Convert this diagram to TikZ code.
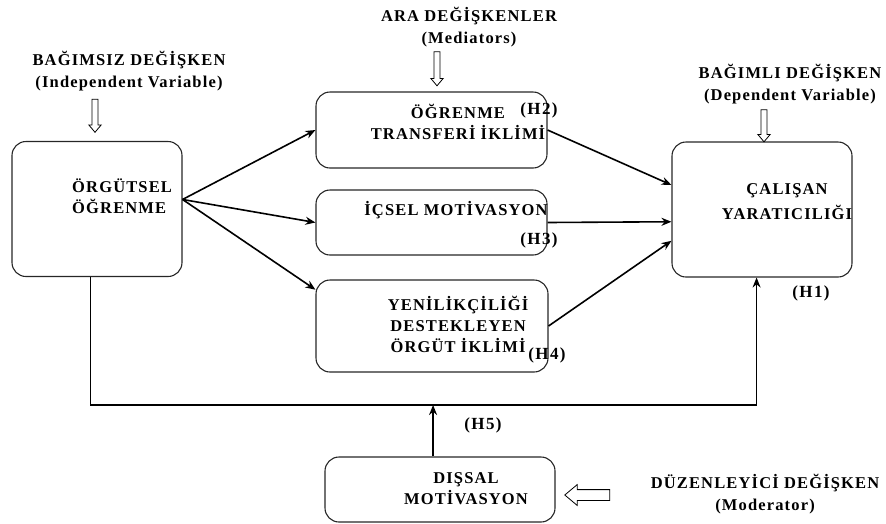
\documentclass[tikz,border=0pt]{standalone}
\usepackage{fontspec}
\setmainfont{Liberation Serif}
\usetikzlibrary{arrows.meta,calc,shapes.arrows}

\begin{document}
\begin{tikzpicture}[x=1pt,y=-1pt,
  box/.style={draw=black!85,line width=1.1pt,rounded corners=14pt,inner sep=0pt},
  txt/.style={font=\fontsize{16.5}{21}\selectfont\bfseries\addfontfeature{LetterSpace=7},align=center,inner sep=0pt},
  head/.style={font=\fontsize{16.5}{22}\selectfont\bfseries\addfontfeature{LetterSpace=7},align=center,inner sep=0pt},
  hyp/.style={font=\fontsize{17}{18}\selectfont\bfseries\addfontfeature{LetterSpace=8},inner sep=0pt},
  link/.style={line width=1.6pt,-{Stealth[length=10pt,width=8pt]}},
  frame/.style={line width=1.3pt},
  hollow/.style={single arrow,draw,line width=0.8pt,inner sep=2.6pt,
    single arrow head extend=3.2pt,single arrow tip angle=80}]
\useasboundingbox (0,0) rectangle (886,523);

% boxes
\node[box,minimum width=170pt,minimum height=135pt] (org) at (97,209) {};
\node[box,minimum width=231pt,minimum height=76pt] (m1) at (431.5,130) {};
\node[box,minimum width=231pt,minimum height=65pt] (m2) at (431.5,222.5) {};
\node[box,minimum width=232pt,minimum height=92pt] (m3) at (432,326) {};
\node[box,minimum width=180pt,minimum height=135pt] (dv) at (762,209.5) {};
\node[box,minimum width=230pt,minimum height=65pt] (ext) at (440,489.5) {};

% texts inside the boxes
\node[txt,align=left,anchor=west] (orgT) at (72,196) {ÖRGÜTSEL\\ÖĞRENME};
\node[txt] (m1T) at (458,122) {ÖĞRENME\\TRANSFERİ İKLİMİ};
\node[txt] (m2T) at (456,210) {İÇSEL MOTİVASYON};
\node[txt] (m3T) at (458,324) {YENİLİKÇİLİĞİ\\DESTEKLEYEN\\ÖRGÜT İKLİMİ};
\node[txt] (dvT) at (787,202) {ÇALIŞAN\\[4pt]YARATICILIĞI};
\node[txt] (extT) at (466,489) {DIŞSAL\\MOTİVASYON};

% hypothesis marks
\node[hyp] (h2) at (539,110) {(H2)};
\node[hyp] (h3) at (539,240) {(H3)};
\node[hyp] (h4) at (547,355) {(H4)};
\node[hyp] (h1) at (811,293) {(H1)};
\node[hyp] (h5) at (483,425) {(H5)};

% variable headings
\node[head] (ivL) at (129,71) {BAĞIMSIZ DEĞİŞKEN\\(Independent Variable)};
\node[head] (medL) at (469,27) {ARA DEĞİŞKENLER\\(Mediators)};
\node[head] (dvL) at (790,84) {BAĞIMLI DEĞİŞKEN\\(Dependent Variable)};
\node[head] (modL) at (765,494) {DÜZENLEYİCİ DEĞİŞKEN\\(Moderator)};

% hollow pointer arrows
\node[hollow,minimum height=33pt,rotate=-90] (ivA) at (95,114) {};
\node[hollow,minimum height=34pt,rotate=-90] (medA) at (437,67) {};
\node[hollow,minimum height=32pt,rotate=-90] (dvA) at (764,124) {};
\node[hollow,minimum height=45pt,minimum width=20pt,inner sep=5pt,
      single arrow head extend=5pt,rotate=180] (modA) at (590.5,495) {};

% connectors from the independent variable to the mediators
\coordinate (orgR) at ($(org.north east)!0.43!(org.south east)$);
\draw[link] (orgR) -- (m1.west);
\draw[link] (orgR) -- (m2.west);
\draw[link] (orgR) -- ($(m3.north west)!0.11!(m3.south west)$);

% connectors from the mediators to the dependent variable
\draw[link] (m1.east) -- ($(dv.north west)!0.32!(dv.south west)$);
\draw[link] (m2.east) -- ($(dv.north west)!0.59!(dv.south west)$);
\draw[link] (m3.east) -- ($(dv.north west)!0.73!(dv.south west)$);

% direct path and moderator
\coordinate (orgB) at ($(org.south west)!0.46!(org.south east)$);
\coordinate (dvB) at ($(dv.south west)!0.47!(dv.south east)$);
\coordinate (loopR) at (dvB |- 0,405);
\coordinate (extTop) at ($(ext.north west)!0.47!(ext.north east)$);
\draw[frame] (orgB) |- (loopR);
\draw[frame,-{Stealth[length=10pt,width=8pt]}] (loopR) -- (dvB);
\draw[link] (extTop) -- (extTop |- loopR);
\end{tikzpicture}
\end{document}
